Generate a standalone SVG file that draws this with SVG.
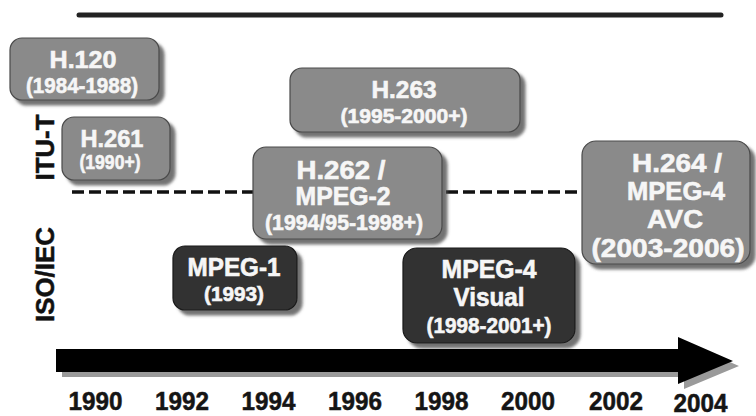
<svg xmlns="http://www.w3.org/2000/svg" width="756" height="416" viewBox="0 0 756 416">
  <defs>
    <filter id="drop" x="-10%" y="-10%" width="130%" height="140%">
      <feGaussianBlur in="SourceAlpha" stdDeviation="1.5"/>
      <feOffset dx="5" dy="5" result="off"/>
      <feFlood flood-color="#505050" flood-opacity="0.8"/>
      <feComposite in2="off" operator="in" result="shadow"/>
      <feMerge>
        <feMergeNode in="shadow"/>
        <feMergeNode in="SourceGraphic"/>
      </feMerge>
    </filter>
    <style>
      .box-light { fill: #8a8a8a; stroke: #4a4a4a; stroke-width: 1.2; filter: url(#drop); }
      .box-dark { fill: #333333; stroke: #1a1a1a; stroke-width: 1.2; filter: url(#drop); }
      .lbl { font-family: "Liberation Sans", Arial, sans-serif; font-weight: bold; fill: #f6f6f6; stroke: #f6f6f6; stroke-width: 0.6; text-anchor: middle; }
      .side { font-family: "Liberation Sans", Arial, sans-serif; font-weight: bold; font-size: 26px; fill: #111111; stroke: #111111; stroke-width: 0.5; text-anchor: middle; }
      .year { font-family: "Liberation Sans", Arial, sans-serif; font-weight: bold; font-size: 25px; fill: #151515; stroke: #151515; stroke-width: 0.5; text-anchor: middle; }
    </style>
  </defs>

  <rect width="756" height="416" fill="#ffffff"/>

  <!-- header rule -->
  <line x1="79" y1="15" x2="721" y2="15" stroke="#222222" stroke-width="5" stroke-linecap="round"/>

  <!-- organisation labels -->
  <text class="side" transform="translate(54,147.5) rotate(-90)" textLength="66" lengthAdjust="spacingAndGlyphs">ITU-T</text>
  <text class="side" transform="translate(54,274.5) rotate(-90)" textLength="95" lengthAdjust="spacingAndGlyphs">ISO/IEC</text>

  <!-- connectors: ITU-T / ISO/IEC divider -->
  <g id="connectors">
    <line x1="72" y1="192" x2="586" y2="192" stroke="#111111" stroke-width="3.5" stroke-dasharray="12 5"/>
  </g>

  <g id="h120">
    <rect class="box-light" x="10" y="38" width="149" height="62" rx="12"/>
    <text class="lbl" x="83" y="68" font-size="24" textLength="67" lengthAdjust="spacingAndGlyphs">H.120</text>
    <text class="lbl" x="82" y="93" font-size="22" textLength="112" lengthAdjust="spacingAndGlyphs">(1984-1988)</text>
  </g>

  <g id="h261">
    <rect class="box-light" x="62" y="117" width="108" height="63" rx="12"/>
    <text class="lbl" x="112" y="147" font-size="24" textLength="63" lengthAdjust="spacingAndGlyphs">H.261</text>
    <text class="lbl" x="110" y="169" font-size="20" textLength="61" lengthAdjust="spacingAndGlyphs">(1990+)</text>
  </g>

  <g id="h263">
    <rect class="box-light" x="290" y="68" width="230" height="64" rx="12"/>
    <text class="lbl" x="404" y="98" font-size="24" textLength="65" lengthAdjust="spacingAndGlyphs">H.263</text>
    <text class="lbl" x="404" y="123" font-size="21" textLength="127" lengthAdjust="spacingAndGlyphs">(1995-2000+)</text>
  </g>

  <g id="h262">
    <rect class="box-light" x="253" y="147" width="189" height="92" rx="13"/>
    <text class="lbl" x="341" y="179" font-size="25" textLength="89" lengthAdjust="spacingAndGlyphs">H.262 /</text>
    <text class="lbl" x="343" y="205" font-size="25" textLength="95" lengthAdjust="spacingAndGlyphs">MPEG-2</text>
    <text class="lbl" x="344" y="230" font-size="22" textLength="158" lengthAdjust="spacingAndGlyphs">(1994/95-1998+)</text>
  </g>

  <g id="h264">
    <rect class="box-light" x="582" y="141" width="168" height="123" rx="14"/>
    <text class="lbl" x="677" y="172" font-size="25" textLength="90" lengthAdjust="spacingAndGlyphs">H.264 /</text>
    <text class="lbl" x="676" y="200" font-size="25" textLength="98" lengthAdjust="spacingAndGlyphs">MPEG-4</text>
    <text class="lbl" x="675" y="228" font-size="25" textLength="56" lengthAdjust="spacingAndGlyphs">AVC</text>
    <text class="lbl" x="668" y="257" font-size="25" textLength="153" lengthAdjust="spacingAndGlyphs">(2003-2006)</text>
  </g>

  <g id="mpeg1">
    <rect class="box-dark" x="173" y="246" width="124" height="64" rx="12"/>
    <text class="lbl" x="234" y="276" font-size="25" textLength="93" lengthAdjust="spacingAndGlyphs">MPEG-1</text>
    <text class="lbl" x="234" y="301" font-size="21" textLength="60" lengthAdjust="spacingAndGlyphs">(1993)</text>
  </g>

  <g id="mpeg4-visual">
    <rect class="box-dark" x="403" y="248" width="172" height="95" rx="14"/>
    <text class="lbl" x="489" y="278" font-size="25" textLength="95" lengthAdjust="spacingAndGlyphs">MPEG-4</text>
    <text class="lbl" x="489" y="306" font-size="25" textLength="71" lengthAdjust="spacingAndGlyphs">Visual</text>
    <text class="lbl" x="489" y="333" font-size="22" textLength="125" lengthAdjust="spacingAndGlyphs">(1998-2001+)</text>
  </g>

  <!-- time axis arrow with offset shadow -->
  <g id="timeline">
    <polygon points="62,354 684,354 684,342 739,366 684,389 684,377 62,377" fill="#9a9a9a"/>
    <polygon points="56,349 678,349 678,337 733,361 678,384 678,372 56,372" fill="#000000"/>
  </g>

  <!-- year ticks -->
  <g id="years">
    <text class="year" x="95.5" y="410" textLength="54" lengthAdjust="spacingAndGlyphs">1990</text>
    <text class="year" x="182" y="410" textLength="54" lengthAdjust="spacingAndGlyphs">1992</text>
    <text class="year" x="268.5" y="410" textLength="54" lengthAdjust="spacingAndGlyphs">1994</text>
    <text class="year" x="355" y="410" textLength="54" lengthAdjust="spacingAndGlyphs">1996</text>
    <text class="year" x="441.5" y="410" textLength="54" lengthAdjust="spacingAndGlyphs">1998</text>
    <text class="year" x="528" y="410" textLength="54" lengthAdjust="spacingAndGlyphs">2000</text>
    <text class="year" x="616" y="410" textLength="54" lengthAdjust="spacingAndGlyphs">2002</text>
    <text class="year" x="700.5" y="412" textLength="54" lengthAdjust="spacingAndGlyphs">2004</text>
  </g>
</svg>
